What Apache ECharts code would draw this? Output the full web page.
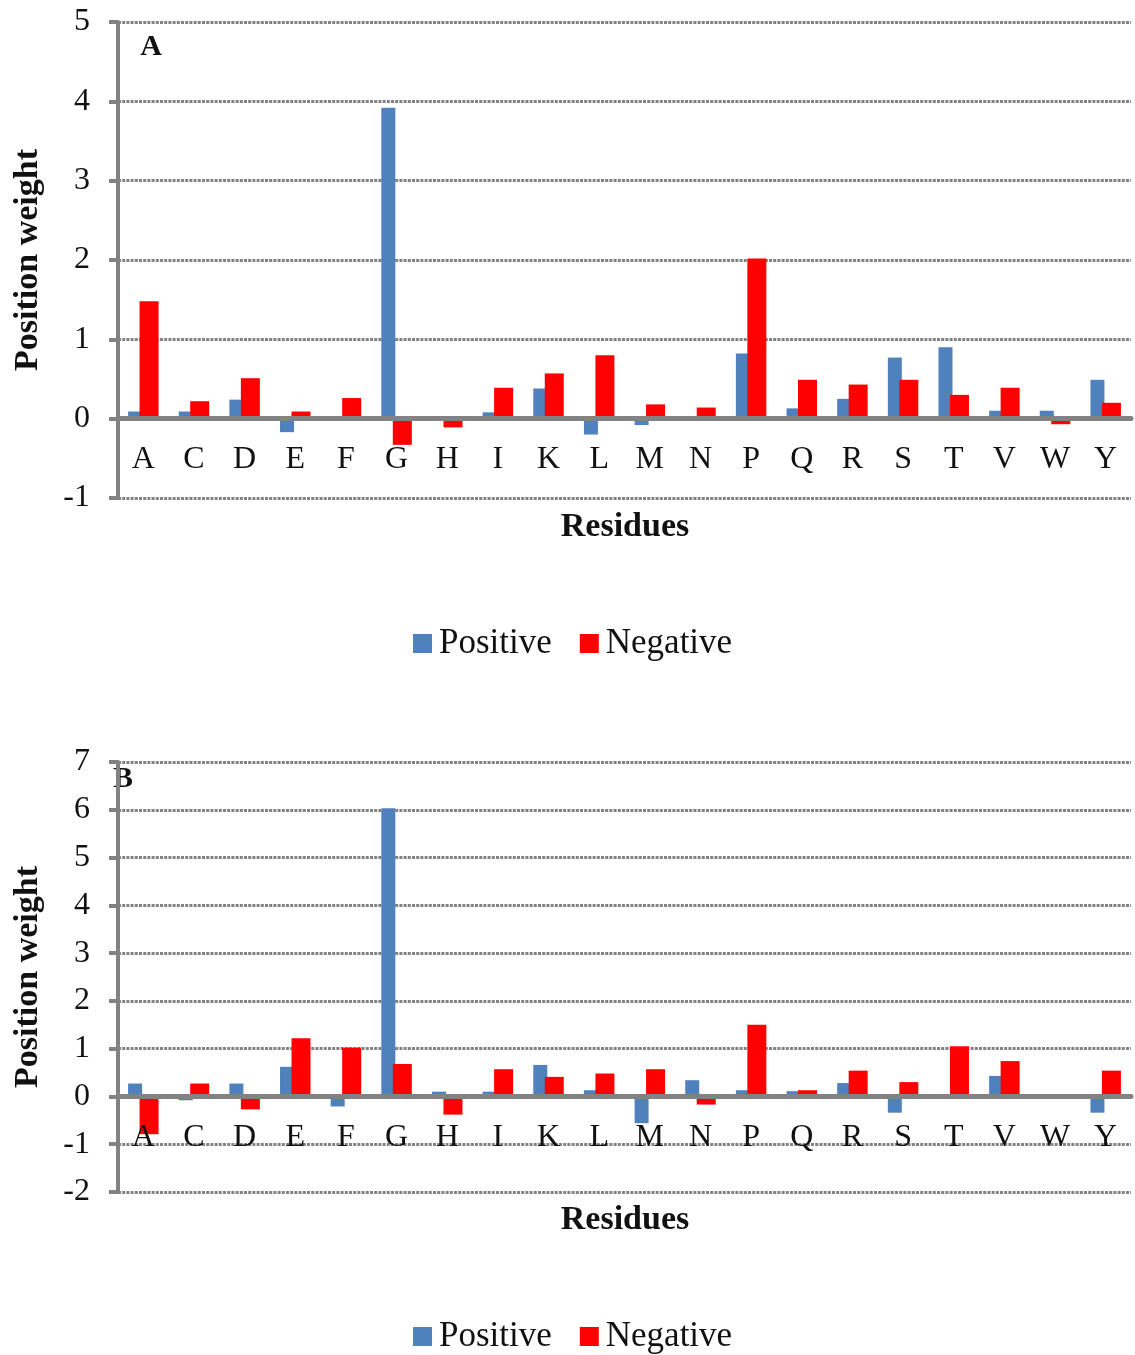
<!DOCTYPE html>
<html>
<head>
<meta charset="utf-8">
<script src="https://cdn.jsdelivr.net/npm/echarts@6/dist/echarts.min.js"></script>
<style>
  html, body { margin: 0; padding: 0; background: #fff; }
  #chart { width: 1135px; height: 1355px; }
</style>
</head>
<body>
<div id="chart"></div>
<script>
// residues on the x axis
const residues = ['A', 'C', 'D', 'E', 'F', 'G', 'H', 'I', 'K', 'L', 'M', 'N', 'P', 'Q', 'R', 'S', 'T', 'V', 'W', 'Y']
// panel A
const posA = [0.09, 0.09, 0.24, -0.17, 0.02, 3.92, 0, 0.08, 0.38, -0.2, -0.08, 0, 0.82, 0.13, 0.25, 0.77, 0.9, 0.1, 0.1, 0.49]
const negA = [1.48, 0.22, 0.51, 0.09, 0.26, -0.33, -0.11, 0.39, 0.57, 0.8, 0.18, 0.14, 2.02, 0.49, 0.43, 0.49, 0.3, 0.39, -0.07, 0.2]
// panel B
const posB = [0.27, -0.08, 0.27, 0.62, -0.21, 6.03, 0.1, 0.1, 0.66, 0.13, -0.56, 0.34, 0.13, 0.11, 0.28, -0.34, 0, 0.43, 0, -0.34]
const negB = [-0.79, 0.27, -0.27, 1.22, 1.02, 0.68, -0.38, 0.57, 0.41, 0.48, 0.57, -0.17, 1.5, 0.13, 0.54, 0.3, 1.05, 0.74, 0, 0.54]
// y ranges
const rangeA = [-1, 5]
const rangeB = [-2, 7]

const serif = 'Liberation Serif'
const gray = '#828282'
const blue = '#4F81BD'
const red = '#FF0000'
const ink = '#111111'

const grids = [
    { left: 118, top: 22, width: 1013, height: 476 },
    { left: 118, top: 762, width: 1013, height: 430 }
]

const myChart = echarts.init(document.getElementById('chart'))

// category axis sits on the zero line, labels just under it
function xAxisFor(gridIndex, range) {
    const g = grids[gridIndex]
    return {
        type: 'category',
        gridIndex: gridIndex,
        data: residues,
        position: 'bottom',
        offset: -g.height * (0 - range[0]) / (range[1] - range[0]),
        axisLine: { onZero: false, lineStyle: { color: gray, width: 5 } },
        axisTick: { show: false },
        axisLabel: { margin: 25, fontFamily: serif, fontSize: 32, color: ink },
        splitLine: { show: false },
        z: 3
    }
}

function yAxisFor(gridIndex, range) {
    return {
        type: 'value',
        gridIndex: gridIndex,
        min: range[0],
        max: range[1],
        interval: 1,
        name: 'Position weight',
        nameLocation: 'middle',
        nameGap: 73,
        nameTextStyle: { fontFamily: serif, fontSize: 34, fontWeight: 'bold', color: ink },
        axisLine: { show: true, lineStyle: { color: gray, width: 4 } },
        axisTick: { show: true, length: 9, lineStyle: { color: gray, width: 4 } },
        axisLabel: { margin: 28, fontFamily: serif, fontSize: 32, color: ink },
        splitLine: { show: true, lineStyle: { color: gray, width: 3, type: [3, 1.2] } }
    }
}

function legendAt(top) {
    return {
        top: top,
        left: 413,
        padding: 0,
        itemWidth: 19,
        itemHeight: 19,
        itemGap: 28,
        icon: 'rect',
        data: ['Positive', 'Negative'],
        textStyle: { fontFamily: serif, fontSize: 35, color: ink, padding: [0, 0, 0, 2] }
    }
}

function barSeries(name, data, color, width, xi) {
    return {
        name: name,
        type: 'bar',
        xAxisIndex: xi,
        yAxisIndex: xi,
        data: data,
        barWidth: width,
        barGap: '-18%',
        itemStyle: { color: color },
        emphasis: { disabled: true }
    }
}

function label(text, x, y, size) {
    return {
        type: 'text',
        x: x,
        y: y,
        style: {
            text: text,
            fill: ink,
            font: 'bold ' + size + 'px "' + serif + '"',
            textAlign: 'center',
            textVerticalAlign: 'middle'
        }
    }
}

const option = {
    animation: false,
    backgroundColor: '#fff',
    graphic: [
        label('A', 151, 47, 30),
        label('B', 123, 779, 30),
        label('Residues', 625, 527, 34),
        label('Residues', 625, 1220, 34)
    ],
    legend: [legendAt(626), legendAt(1319)],
    grid: grids,
    xAxis: [xAxisFor(0, rangeA), xAxisFor(1, rangeB)],
    yAxis: [yAxisFor(0, rangeA), yAxisFor(1, rangeB)],
    series: [
        barSeries('Positive', posA, blue, 14, 0),
        barSeries('Negative', negA, red, 19, 0),
        barSeries('Positive', posB, blue, 14, 1),
        barSeries('Negative', negB, red, 19, 1)
    ]
}
myChart.setOption(option)
</script>
</body>
</html>
